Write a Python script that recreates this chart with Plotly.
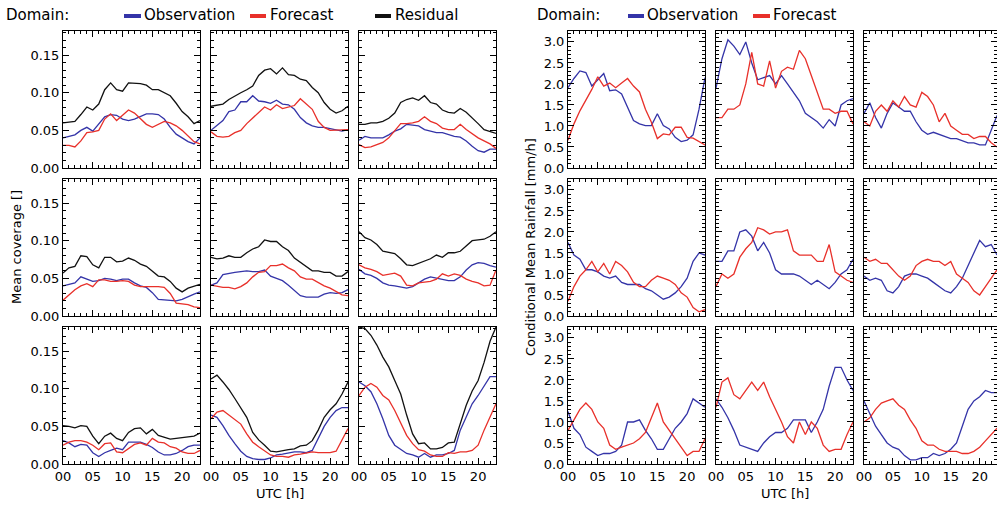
import plotly.graph_objects as go

hours = list(range(24))
x_ticks = [0, 5, 10, 15, 20]
x_ticktext = ["00", "05", "10", "15", "20"]
cov_ticks = [0.00, 0.05, 0.10, 0.15]
cov_ticktext = ["0.00", "0.05", "0.10", "0.15"]
rain_ticks = [0.0, 0.5, 1.0, 1.5, 2.0, 2.5, 3.0]
rain_ticktext = ["0.0", "0.5", "1.0", "1.5", "2.0", "2.5", "3.0"]

# ---- Mean coverage (left grid), panels row-major ----
cov_obs_11 = [0.040,0.042,0.044,0.050,0.054,0.049,0.058,0.068,0.071,0.070,0.065,0.063,0.065,0.069,0.072,0.072,0.071,0.065,0.054,0.045,0.040,0.035,0.032,0.040]
cov_fc_11 = [0.030,0.030,0.028,0.036,0.047,0.048,0.050,0.065,0.072,0.063,0.070,0.077,0.073,0.065,0.058,0.054,0.058,0.062,0.060,0.056,0.050,0.042,0.035,0.032]
cov_res_11 = [0.060,0.061,0.062,0.071,0.081,0.077,0.085,0.104,0.113,0.104,0.102,0.113,0.113,0.112,0.110,0.104,0.104,0.100,0.096,0.086,0.075,0.068,0.059,0.063]

cov_obs_12 = [0.050,0.056,0.063,0.075,0.077,0.088,0.088,0.096,0.089,0.088,0.086,0.090,0.085,0.084,0.078,0.067,0.060,0.056,0.054,0.054,0.052,0.050,0.049,0.051]
cov_fc_12 = [0.048,0.042,0.041,0.042,0.047,0.050,0.059,0.066,0.073,0.081,0.077,0.084,0.079,0.081,0.083,0.092,0.085,0.078,0.062,0.054,0.050,0.050,0.051,0.051]
cov_res_12 = [0.082,0.083,0.085,0.091,0.096,0.100,0.104,0.109,0.123,0.130,0.132,0.125,0.133,0.124,0.123,0.118,0.116,0.107,0.100,0.087,0.078,0.073,0.076,0.082]

cov_obs_13 = [0.037,0.042,0.040,0.040,0.040,0.044,0.049,0.052,0.058,0.057,0.056,0.051,0.049,0.047,0.047,0.044,0.042,0.041,0.036,0.029,0.023,0.021,0.025,0.025]
cov_fc_13 = [0.031,0.027,0.028,0.031,0.034,0.040,0.049,0.059,0.059,0.060,0.062,0.068,0.062,0.059,0.053,0.051,0.051,0.058,0.051,0.045,0.040,0.036,0.032,0.026]
cov_res_13 = [0.058,0.058,0.060,0.060,0.062,0.066,0.073,0.087,0.091,0.093,0.090,0.096,0.087,0.085,0.077,0.074,0.073,0.079,0.074,0.067,0.059,0.051,0.048,0.046]

cov_obs_21 = [0.040,0.042,0.044,0.052,0.049,0.046,0.047,0.050,0.049,0.047,0.049,0.049,0.044,0.040,0.038,0.031,0.022,0.021,0.021,0.020,0.022,0.026,0.029,0.032]
cov_fc_21 = [0.021,0.028,0.035,0.040,0.043,0.039,0.048,0.048,0.046,0.046,0.047,0.046,0.041,0.039,0.039,0.039,0.039,0.038,0.030,0.017,0.016,0.015,0.012,0.011]
cov_res_21 = [0.057,0.064,0.066,0.080,0.079,0.068,0.064,0.078,0.078,0.072,0.073,0.077,0.074,0.069,0.066,0.059,0.053,0.052,0.046,0.037,0.032,0.037,0.039,0.042]

cov_obs_22 = [0.041,0.044,0.055,0.057,0.058,0.059,0.060,0.059,0.059,0.061,0.053,0.050,0.047,0.041,0.034,0.027,0.025,0.025,0.025,0.029,0.031,0.030,0.031,0.035]
cov_fc_22 = [0.041,0.039,0.038,0.038,0.036,0.039,0.044,0.052,0.058,0.059,0.067,0.067,0.069,0.064,0.060,0.052,0.049,0.049,0.044,0.040,0.037,0.032,0.028,0.027]
cov_res_22 = [0.078,0.076,0.077,0.080,0.078,0.078,0.084,0.089,0.092,0.101,0.099,0.099,0.092,0.087,0.077,0.071,0.066,0.060,0.060,0.058,0.058,0.053,0.053,0.059]

cov_obs_23 = [0.062,0.056,0.054,0.050,0.044,0.041,0.040,0.038,0.037,0.039,0.044,0.049,0.052,0.050,0.048,0.047,0.047,0.052,0.061,0.068,0.071,0.070,0.067,0.065]
cov_fc_23 = [0.068,0.064,0.062,0.059,0.054,0.056,0.057,0.053,0.041,0.040,0.044,0.045,0.046,0.049,0.056,0.053,0.056,0.054,0.049,0.046,0.044,0.040,0.041,0.061]
cov_res_23 = [0.112,0.104,0.101,0.095,0.086,0.084,0.083,0.076,0.068,0.067,0.070,0.074,0.076,0.081,0.078,0.084,0.084,0.086,0.093,0.100,0.101,0.102,0.106,0.112]

cov_obs_31 = [0.031,0.028,0.023,0.026,0.025,0.015,0.010,0.015,0.018,0.021,0.019,0.029,0.029,0.029,0.026,0.022,0.016,0.012,0.012,0.014,0.018,0.023,0.025,0.025]
cov_fc_31 = [0.025,0.029,0.031,0.031,0.029,0.025,0.019,0.027,0.028,0.016,0.015,0.021,0.026,0.028,0.025,0.034,0.029,0.028,0.023,0.021,0.016,0.014,0.014,0.018]
cov_res_31 = [0.051,0.050,0.048,0.051,0.050,0.037,0.027,0.037,0.041,0.034,0.031,0.042,0.047,0.048,0.040,0.046,0.038,0.036,0.033,0.034,0.035,0.036,0.037,0.041]

cov_obs_32 = [0.065,0.062,0.051,0.038,0.027,0.017,0.010,0.007,0.006,0.006,0.008,0.012,0.013,0.015,0.016,0.016,0.015,0.018,0.034,0.050,0.062,0.071,0.075,0.075]
cov_fc_32 = [0.060,0.069,0.071,0.065,0.058,0.053,0.040,0.029,0.023,0.017,0.012,0.010,0.010,0.009,0.012,0.013,0.015,0.016,0.015,0.015,0.015,0.017,0.031,0.047]
cov_res_32 = [0.113,0.118,0.109,0.099,0.087,0.075,0.062,0.042,0.032,0.025,0.017,0.016,0.018,0.019,0.020,0.024,0.025,0.031,0.045,0.062,0.072,0.080,0.093,0.109]

cov_obs_33 = [0.109,0.104,0.096,0.080,0.060,0.038,0.025,0.019,0.014,0.012,0.009,0.014,0.009,0.012,0.012,0.014,0.018,0.045,0.062,0.080,0.091,0.104,0.116,0.116]
cov_fc_33 = [0.091,0.102,0.107,0.102,0.091,0.085,0.071,0.054,0.038,0.027,0.019,0.017,0.012,0.010,0.010,0.015,0.014,0.016,0.016,0.018,0.025,0.045,0.062,0.080]
cov_res_33 = [0.182,0.180,0.171,0.158,0.142,0.129,0.111,0.093,0.065,0.040,0.027,0.028,0.020,0.020,0.022,0.028,0.029,0.054,0.078,0.097,0.111,0.135,0.163,0.182]

# ---- Conditional mean rainfall (right grid) ----
rain_obs_11 = [1.91,2.13,2.31,2.27,1.95,2.09,2.25,1.84,1.86,1.76,1.44,1.13,1.05,1.01,1.01,1.29,1.01,0.93,0.73,0.63,0.66,0.79,1.40,2.15]
rain_fc_11 = [0.66,1.05,1.36,1.60,1.87,2.17,1.95,2.02,1.91,2.02,2.13,1.95,1.81,1.40,1.09,0.70,0.81,0.79,0.97,0.97,0.73,0.71,0.62,0.55]

rain_obs_12 = [1.90,2.60,3.05,2.90,2.70,3.00,2.50,2.10,2.15,2.20,2.00,2.20,2.00,1.80,1.60,1.30,1.20,1.10,0.95,1.15,1.00,1.50,1.60,1.65]
rain_fc_12 = [1.20,1.20,1.40,1.40,1.50,2.00,2.75,2.00,1.95,2.55,1.90,2.30,2.40,2.35,2.80,2.60,2.20,1.80,1.40,1.40,1.30,1.35,1.35,1.05]

rain_obs_13 = [1.30,1.55,1.20,0.95,1.30,1.55,1.45,1.35,1.35,1.10,0.90,0.80,0.85,0.80,0.75,0.70,0.70,0.65,0.60,0.60,0.55,0.55,0.90,1.25]
rain_fc_13 = [1.10,1.00,1.35,1.50,1.35,1.60,1.45,1.70,1.50,1.45,1.80,1.70,1.50,1.10,1.30,1.00,0.90,0.80,0.80,0.70,0.75,0.75,0.60,0.50]

rain_obs_21 = [1.75,1.45,1.35,1.10,1.10,1.05,0.95,0.90,0.95,0.80,0.75,0.75,0.75,0.65,0.60,0.50,0.40,0.45,0.55,0.70,0.90,1.30,1.50,1.45]
rain_fc_21 = [0.35,0.70,0.95,1.10,1.30,1.05,1.25,1.00,1.30,1.20,1.05,0.80,0.70,0.70,0.85,0.95,0.90,0.85,0.75,0.55,0.45,0.20,0.10,0.15]

rain_obs_22 = [1.30,1.30,1.55,1.55,2.00,2.05,1.90,1.55,1.75,1.50,1.10,1.00,1.00,1.00,0.95,0.85,0.75,0.85,0.75,0.65,0.80,1.00,1.10,1.35]
rain_fc_22 = [0.70,1.00,0.90,1.00,1.40,1.60,1.75,2.10,2.05,1.95,2.00,2.00,2.05,1.55,1.45,1.45,1.45,1.30,1.30,1.70,1.05,0.95,0.85,0.80]

rain_obs_23 = [0.95,0.85,0.90,0.85,0.60,0.55,0.70,0.95,1.00,1.00,0.95,0.90,0.80,0.70,0.60,0.55,0.70,0.90,1.20,1.50,1.80,1.65,1.70,1.45]
rain_fc_23 = [1.40,1.30,1.35,1.25,1.25,1.10,0.95,0.85,0.95,1.20,1.30,1.35,1.30,1.30,1.20,1.30,1.00,0.90,0.80,0.60,0.50,0.70,0.90,1.10]

rain_obs_31 = [1.25,0.85,0.70,0.40,0.30,0.20,0.25,0.25,0.30,0.45,1.00,1.00,1.05,0.80,0.60,0.35,0.35,0.60,0.85,1.00,1.20,1.55,1.45,1.35]
rain_fc_31 = [0.80,1.05,1.30,1.45,1.30,1.00,0.85,0.45,0.35,0.40,0.45,0.50,0.60,0.75,1.10,1.45,1.00,0.80,0.60,0.40,0.20,0.30,0.30,0.60]

rain_obs_32 = [1.55,1.35,1.10,0.80,0.45,0.40,0.35,0.30,0.50,0.65,0.75,0.75,0.85,1.05,1.05,1.05,0.75,1.00,1.30,1.85,2.30,2.30,2.00,1.75]
rain_fc_32 = [1.35,1.95,2.05,1.65,1.55,1.75,1.95,1.75,1.95,1.60,1.30,1.00,0.65,0.50,1.00,0.70,1.00,0.85,0.45,0.30,0.35,0.35,0.70,1.00]

rain_obs_33 = [1.50,1.20,0.90,0.70,0.50,0.40,0.35,0.20,0.10,0.10,0.15,0.15,0.25,0.20,0.25,0.35,0.50,0.90,1.30,1.50,1.60,1.75,1.70,1.70]
rain_fc_33 = [1.00,1.10,1.30,1.45,1.50,1.55,1.40,1.30,1.05,0.85,0.55,0.45,0.45,0.35,0.30,0.30,0.30,0.25,0.25,0.30,0.40,0.55,0.70,0.85]

cov_panels = [
    [(cov_obs_11, cov_fc_11, cov_res_11), (cov_obs_12, cov_fc_12, cov_res_12), (cov_obs_13, cov_fc_13, cov_res_13)],
    [(cov_obs_21, cov_fc_21, cov_res_21), (cov_obs_22, cov_fc_22, cov_res_22), (cov_obs_23, cov_fc_23, cov_res_23)],
    [(cov_obs_31, cov_fc_31, cov_res_31), (cov_obs_32, cov_fc_32, cov_res_32), (cov_obs_33, cov_fc_33, cov_res_33)],
]
rain_panels = [
    [(rain_obs_11, rain_fc_11), (rain_obs_12, rain_fc_12), (rain_obs_13, rain_fc_13)],
    [(rain_obs_21, rain_fc_21), (rain_obs_22, rain_fc_22), (rain_obs_23, rain_fc_23)],
    [(rain_obs_31, rain_fc_31), (rain_obs_32, rain_fc_32), (rain_obs_33, rain_fc_33)],
]

W, H = 997, 506
BLUE = "#3434a8"
RED = "#e8302a"
BLACK = "#111111"
FONT = "DejaVu Sans"

left_cols = [(63, 200), (211, 348), (359, 496)]
right_cols = [(568, 705), (716, 853), (864, 1001)]
rows = [(31, 168), (179, 316), (327, 464)]

fig = go.Figure()
layout = {}
idx = 0

def add_panel(xpx, ypx, series, yrange, yticks, ytext, yminor, show_x, show_y):
    global idx
    idx += 1
    xa = "xaxis" if idx == 1 else f"xaxis{idx}"
    ya = "yaxis" if idx == 1 else f"yaxis{idx}"
    xr = "x" if idx == 1 else f"x{idx}"
    yr = "y" if idx == 1 else f"y{idx}"
    x0, x1 = xpx[0] / W, min(xpx[1] / W, 1.0)
    y0, y1 = 1 - ypx[1] / H, 1 - ypx[0] / H
    common = dict(showgrid=False, zeroline=False, showline=True, linecolor="black",
                  linewidth=1, mirror="allticks", ticks="inside", ticklen=6,
                  tickcolor="black", tickwidth=1, automargin=False,
                  tickfont=dict(family=FONT, size=13, color="black"))
    layout[xa] = dict(common, domain=[x0, x1], anchor=yr, range=[0, 23],
                      tickvals=x_ticks, ticktext=x_ticktext, showticklabels=show_x,
                      minor=dict(ticks="inside", ticklen=3, dtick=1, tickcolor="black"))
    layout[ya] = dict(common, domain=[y0, y1], anchor=xr, range=yrange,
                      tickvals=yticks, ticktext=ytext, showticklabels=show_y,
                      minor=dict(ticks="inside", ticklen=3, dtick=yminor, tickcolor="black"))
    for vals, col in series:
        fig.add_trace(go.Scatter(x=hours, y=vals, mode="lines", xaxis=xr, yaxis=yr,
                                 line=dict(color=col, width=1.3), showlegend=False,
                                 hoverinfo="skip"))

for r in range(3):
    for c in range(3):
        obs, fc, res = cov_panels[r][c]
        add_panel(left_cols[c], rows[r], [(res, BLACK), (obs, BLUE), (fc, RED)],
                  [0, 0.182], cov_ticks, cov_ticktext, 0.01, r == 2, c == 0)
for r in range(3):
    for c in range(3):
        obs, fc = rain_panels[r][c]
        add_panel(right_cols[c], rows[r], [(obs, BLUE), (fc, RED)],
                  [0, 3.26], rain_ticks, rain_ticktext, 0.1, r == 2, c == 0)

annotations = []
shapes = []

def txt(x, y, s, size=14, angle=0, xanchor="left"):
    annotations.append(dict(x=x / W, y=1 - y / H, xref="paper", yref="paper", text=s,
                            showarrow=False, xanchor=xanchor, yanchor="middle",
                            textangle=angle, font=dict(family=FONT, size=size, color="black")))

def seg(x0, x1, y, col):
    shapes.append(dict(type="line", xref="paper", yref="paper", x0=x0 / W, x1=x1 / W,
                       y0=1 - y / H, y1=1 - y / H, line=dict(color=col, width=4)))

# legends
txt(4, 15, "Domain:", size=15)
seg(124, 141, 16, BLUE); txt(142, 15, "Observation", size=15)
seg(250, 266, 16, RED); txt(268, 15, "Forecast", size=15)
seg(375, 391, 16, BLACK); txt(393, 15, "Residual", size=15)
txt(535, 15, "Domain:", size=15)
seg(628, 644, 16, BLUE); txt(645, 15, "Observation", size=15)
seg(753, 770, 16, RED); txt(771, 15, "Forecast", size=15)

# axis titles
txt(16, 247, "Mean coverage []", size=13, angle=-90, xanchor="center")
txt(530, 247, "Conditional Mean Rainfall [mm/h]", size=13, angle=-90, xanchor="center")
txt(280, 493, "UTC [h]", size=13, xanchor="center")
txt(785, 493, "UTC [h]", size=13, xanchor="center")

fig.update_layout(**layout)
fig.update_layout(width=W, height=H, margin=dict(l=0, r=0, t=0, b=0, autoexpand=False),
                  paper_bgcolor="white", plot_bgcolor="white", template="none",
                  annotations=annotations, shapes=shapes, showlegend=False)
fig.write_html("out.html", config={"displayModeBar": False, "staticPlot": True},
               post_script="document.body.style.margin='0';document.body.style.overflow='hidden';")
